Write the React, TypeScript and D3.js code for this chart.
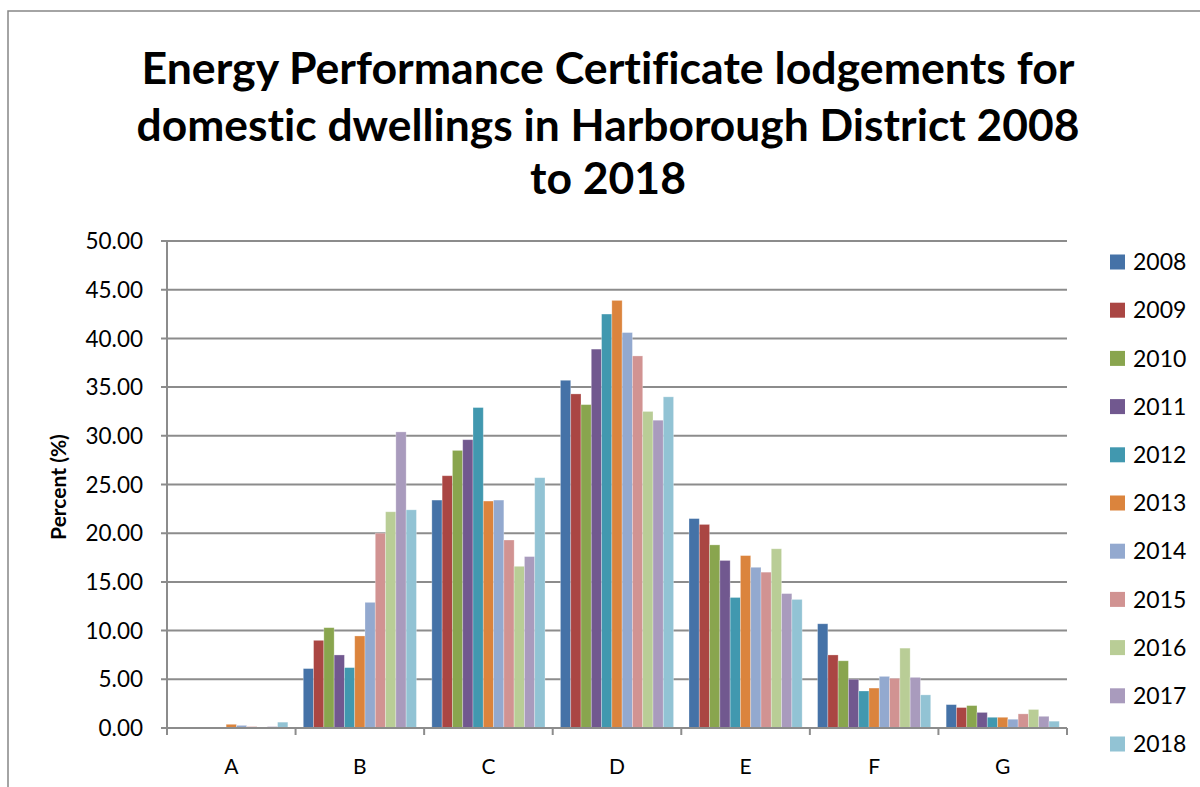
import React from "react";
import * as d3 from "d3";

const categories = ["A", "B", "C", "D", "E", "F", "G"];
const years = ["2008", "2009", "2010", "2011", "2012", "2013", "2014", "2015", "2016", "2017", "2018"];
const colors = ["#4572A7", "#AA4643", "#89A54E", "#71588F", "#4198AF", "#DB843D", "#93A9CF", "#D19392", "#B9CD96", "#A99BBD", "#92C3D4"];
// values per year, ordered A..G
const v2008 = [0.02, 6.1, 23.4, 35.7, 21.5, 10.7, 2.4];
const v2009 = [0.02, 9.0, 25.9, 34.3, 20.9, 7.5, 2.1];
const v2010 = [0.03, 10.3, 28.5, 33.2, 18.8, 6.9, 2.3];
const v2011 = [0.06, 7.5, 29.6, 38.9, 17.2, 5.0, 1.6];
const v2012 = [0.1, 6.2, 32.9, 42.5, 13.4, 3.8, 1.1];
const v2013 = [0.38, 9.45, 23.3, 43.9, 17.7, 4.1, 1.1];
const v2014 = [0.27, 12.9, 23.4, 40.6, 16.5, 5.3, 0.9];
const v2015 = [0.15, 20.0, 19.3, 38.2, 16.0, 5.1, 1.45];
const v2016 = [0.05, 22.2, 16.6, 32.5, 18.4, 8.2, 1.9];
const v2017 = [0.15, 30.4, 17.6, 31.6, 13.8, 5.2, 1.2];
const v2018 = [0.6, 22.4, 25.7, 34.0, 13.2, 3.4, 0.7];
const series = [v2008, v2009, v2010, v2011, v2012, v2013, v2014, v2015, v2016, v2017, v2018];
const yTicks = [0, 5, 10, 15, 20, 25, 30, 35, 40, 45, 50];
const titleLines = [
  "Energy Performance Certificate lodgements for",
  "domestic dwellings in Harborough District 2008",
  "to 2018",
];

export default function App() {
  const W = 1200, H = 787;
  const left = 167, right = 1067, top = 241, bottom = 728;
  const x0 = d3.scaleBand().domain(categories).range([left, right]).paddingInner(0).paddingOuter(0);
  const bw = x0.bandwidth();
  const gap = bw * 1.5 / 12.5 / 2;
  const x1 = d3.scaleBand().domain(years).range([gap, bw - gap]).padding(0);
  const y = d3.scaleLinear().domain([0, 50]).range([bottom, top]);
  const font = "Lato, 'Open Sans', sans-serif";
  const grid = "#8c8c8c";
  const titleWidths = [933, 943, 156];
  const titleBase = [84, 141, 194];
  return (
    <svg width={W} height={H} style={{ position: "absolute", left: 0, top: 0, background: "#fff", fontVariantLigatures: "none" }} fontFamily={font}>
      <rect x={8} y={11} width={1400} height={1000} fill="#fff" stroke="#868686" strokeWidth={1.5} />
      {titleLines.map((t, i) => (
        <text key={i} x={608} y={titleBase[i]} textAnchor="middle" fontSize={43} fontWeight="bold" fill="#000"
          textLength={titleWidths[i]} lengthAdjust="spacingAndGlyphs">{t}</text>
      ))}
      {yTicks.map((t) => (
        <g key={t}>
          <line x1={left - 6} x2={right} y1={y(t)} y2={y(t)} stroke={grid} strokeWidth={2} />
          <text x={143} y={y(t)} dy="0.36em" textAnchor="end" fontSize={22.5} fill="#000">{t.toFixed(2)}</text>
        </g>
      ))}
      <line x1={left} x2={left} y1={top} y2={bottom} stroke={grid} strokeWidth={2} />
      {categories.map((c, ci) => (
        <g key={c} transform={`translate(${x0(c)},0)`}>
          {series.map((s, si) => (
            <rect key={si} x={x1(years[si])} y={y(s[ci])} width={x1.bandwidth()} height={bottom - y(s[ci])}
              fill={colors[si]} stroke="#ffffff" strokeOpacity={0.35} strokeWidth={0.8} />
          ))}
          <text x={bw / 2} y={766} dy="0.36em" textAnchor="middle" fontSize={21} fill="#000">{c}</text>
        </g>
      ))}
      <line x1={left} x2={right} y1={bottom} y2={bottom} stroke={grid} strokeWidth={2} />
      {[...categories.map((c) => x0(c) as number), right].map((xx, i) => (
        <line key={i} x1={xx} x2={xx} y1={bottom} y2={bottom + 7} stroke={grid} strokeWidth={2} />
      ))}
      <text transform={`translate(66,487) rotate(-90)`} textAnchor="middle" fontSize={21} fontWeight="bold" fill="#000">Percent (%)</text>
      {years.map((yr, i) => (
        <g key={yr} transform={`translate(1110,${262 + i * 48.2})`}>
          <rect x={0} y={-7.5} width={15} height={15} fill={colors[i]} />
          <text x={23} y={0} dy="0.36em" fontSize={23} fill="#000">{yr}</text>
        </g>
      ))}
    </svg>
  );
}
